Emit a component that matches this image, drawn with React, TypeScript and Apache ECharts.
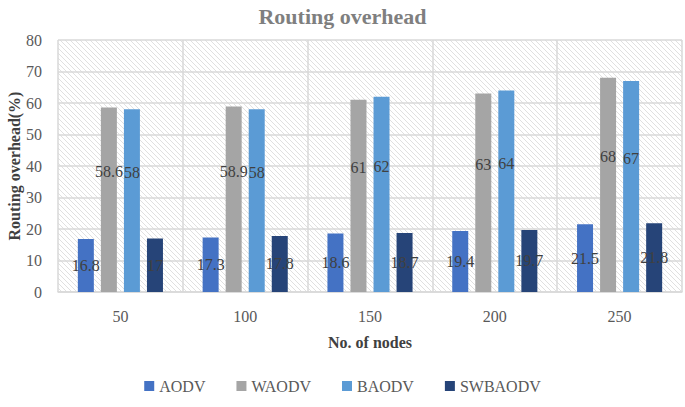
import React, { useEffect, useRef } from "react";
import * as echarts from "echarts";

const categories = ["50", "100", "150", "200", "250"];
const seriesNames = ["AODV", "WAODV", "BAODV", "SWBAODV"];
const aodv = [16.8, 17.3, 18.6, 19.4, 21.5];
const waodv = [58.6, 58.9, 61, 63, 68];
const baodv = [58, 58, 62, 64, 67];
const swbaodv = [17, 17.8, 18.7, 19.7, 21.8];
const colors = ["#4472C4", "#A5A5A5", "#5B9BD5", "#264478"];

const FONT = "Liberation Serif";

function makeHatch(): string {
  const s = 5;
  const c = document.createElement("canvas");
  c.width = s;
  c.height = s;
  const ctx = c.getContext("2d")!;
  ctx.fillStyle = "#ffffff";
  ctx.fillRect(0, 0, s, s);
  ctx.strokeStyle = "#e0e0e0";
  ctx.lineWidth = 1;
  for (const o of [-s, 0, s]) {
    ctx.beginPath();
    ctx.moveTo(o, 0);
    ctx.lineTo(o + s, s);
    ctx.stroke();
  }
  return c.toDataURL();
}

export default function App() {
  const ref = useRef<HTMLDivElement>(null);
  useEffect(() => {
    if (!ref.current) return;
    document.body.style.margin = "0";
    const chart = echarts.init(ref.current, undefined, { renderer: "svg" });
    const all = [aodv, waodv, baodv, swbaodv];
    const series = all.map((vals, i) => ({
      name: seriesNames[i],
      type: "bar",
      barWidth: 16,
      barGap: "44%",
      itemStyle: { color: colors[i] },
      data: vals.map((v) => ({
        value: v,
        label: v > 40 ? { offset: [0, -28] } : {},
      })),
      label: {
        show: true,
        position: "inside",
        color: "#404040",
        fontFamily: FONT,
        fontSize: 16,
      },
    }));
    chart.setOption({
      animation: false,
      textStyle: { fontFamily: FONT },
      title: {
        text: "Routing overhead",
        left: "center",
        top: 0,
        textStyle: {
          fontFamily: FONT,
          fontSize: 22,
          fontWeight: "bold",
          color: "#7f7f7f",
        },
      },
      grid: {
        left: 58,
        right: 3,
        top: 40,
        bottom: 115,
        show: true,
        borderWidth: 0,
        containLabel: false,
        outerBoundsMode: "none",
        backgroundColor: { image: makeHatch(), repeat: "repeat" },
      },
      legend: {
        data: seriesNames,
        bottom: 8,
        left: "center",
        icon: "rect",
        itemWidth: 10,
        itemHeight: 10,
        itemGap: 31,
        textStyle: { fontFamily: FONT, fontSize: 16, color: "#595959" },
      },
      xAxis: {
        type: "category",
        data: categories,
        name: "No. of nodes",
        nameLocation: "middle",
        nameGap: 42,
        nameMoveOverlap: false,
        nameTextStyle: {
          fontFamily: FONT,
          fontSize: 16,
          fontWeight: "bold",
          color: "#404040",
        },
        axisLine: { show: true, lineStyle: { color: "#d9d9d9", width: 1.5 } },
        axisTick: { show: false },
        axisLabel: {
          fontFamily: FONT,
          fontSize: 16,
          color: "#595959",
          margin: 16,
        },
        splitLine: { show: true, lineStyle: { color: "#d9d9d9", width: 1.5 } },
      },
      yAxis: {
        type: "value",
        min: 0,
        max: 80,
        interval: 10,
        name: "Routing overhead(%)",
        nameLocation: "middle",
        nameGap: 36,
        nameMoveOverlap: false,
        nameTextStyle: {
          fontFamily: FONT,
          fontSize: 16,
          fontWeight: "bold",
          color: "#404040",
        },
        axisLine: { show: false },
        axisTick: { show: false },
        axisLabel: {
          fontFamily: FONT,
          fontSize: 16,
          color: "#595959",
          margin: 16,
        },
        splitLine: { show: true, lineStyle: { color: "#d9d9d9", width: 1.5 } },
      },
      series,
    });
    return () => chart.dispose();
  }, []);
  return <div ref={ref} style={{ width: 685, height: 407 }} />;
}
